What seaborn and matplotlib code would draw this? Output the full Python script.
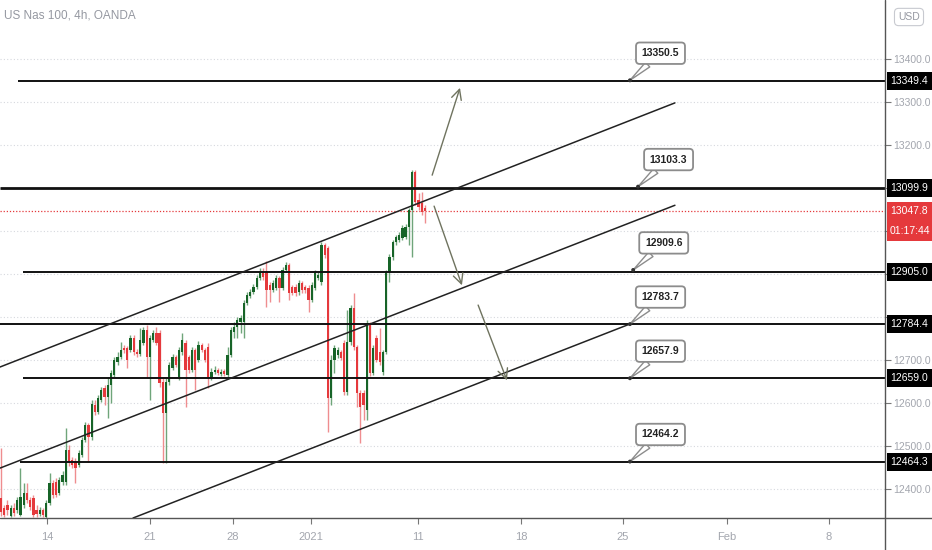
import matplotlib
matplotlib.use("Agg")
import matplotlib.pyplot as plt
import seaborn as sns
import numpy as np
import pandas as pd
from matplotlib import font_manager
from matplotlib.patches import Rectangle
from matplotlib.lines import Line2D

# ---------------- data ----------------
opens = [12379, 12356, 12363, 12337, 12356, 12351, 12340, 12363, 12391, 12374,
         12379, 12351, 12342, 12351, 12335, 12367, 12414, 12416, 12391, 12416,
         12416, 12491, 12467, 12463, 12456, 12479, 12514, 12549, 12521, 12595,
         12579, 12607, 12635, 12614, 12642, 12665, 12695, 12707, 12728, 12728,
         12723, 12751, 12719, 12714, 12740, 12770, 12707, 12747, 12763, 12763,
         12649, 12577, 12649, 12681, 12707, 12660, 12719, 12740, 12707, 12677,
         12723, 12700, 12735, 12723, 12730, 12660, 12672, 12677, 12667, 12674,
         12665, 12712, 12765, 12777, 12788, 12788, 12833, 12849, 12858, 12870,
         12891, 12905, 12905, 12874, 12863, 12867, 12891, 12867, 12909, 12921,
         12870, 12870, 12858, 12879, 12870, 12867, 12840, 12867, 12891, 12881,
         12967, 12960, 12612, 12700, 12712, 12719, 12740, 12626, 12742, 12821,
         12730, 12623, 12623, 12584, 12781, 12670, 12751, 12719, 12672, 12719,
         12905, 12940, 12974, 12979, 12984, 12986, 13009, 13049, 13137, 13072,
         13065, 13053]
highs = [12495, 12363, 12374, 12363, 12367, 12381, 12449, 12414, 12414, 12381,
         12386, 12363, 12358, 12356, 12374, 12437, 12421, 12426, 12428, 12442,
         12542, 12502, 12474, 12472, 12491, 12521, 12556, 12553, 12607, 12607,
         12619, 12637, 12642, 12660, 12677, 12707, 12719, 12742, 12735, 12733,
         12758, 12758, 12726, 12774, 12777, 12781, 12758, 12770, 12777, 12770,
         12658, 12658, 12695, 12714, 12712, 12730, 12763, 12747, 12712, 12730,
         12728, 12744, 12740, 12728, 12740, 12681, 12686, 12681, 12679, 12679,
         12730, 12777, 12788, 12800, 12805, 12840, 12858, 12865, 12877, 12898,
         12914, 12914, 12930, 12881, 12886, 12898, 12895, 12916, 12928, 12926,
         12874, 12877, 12886, 12884, 12874, 12874, 12881, 12909, 12905, 12974,
         12972, 12965, 12712, 12735, 12730, 12723, 12747, 12816, 12828, 12856,
         12735, 12630, 12630, 12793, 12788, 12735, 12758, 12774, 12723, 12909,
         12946, 12979, 12991, 12998, 13014, 13016, 13053, 13142, 13142, 13088,
         13091, 13060]
lows = [12337, 12335, 12340, 12335, 12337, 12344, 12337, 12356, 12367, 12351,
        12335, 12335, 12337, 12335, 12333, 12363, 12379, 12381, 12386, 12409,
        12409, 12453, 12449, 12414, 12451, 12474, 12509, 12463, 12514, 12572,
        12575, 12602, 12595, 12565, 12600, 12660, 12688, 12702, 12716, 12681,
        12719, 12712, 12707, 12709, 12735, 12658, 12607, 12742, 12735, 12637,
        12460, 12460, 12642, 12677, 12684, 12653, 12712, 12591, 12670, 12672,
        12630, 12695, 12719, 12695, 12635, 12653, 12667, 12665, 12663, 12663,
        12660, 12707, 12751, 12751, 12763, 12751, 12828, 12844, 12854, 12865,
        12886, 12886, 12823, 12835, 12858, 12863, 12835, 12863, 12905, 12840,
        12851, 12849, 12851, 12856, 12856, 12812, 12835, 12863, 12886, 12874,
        12937, 12533, 12595, 12670, 12705, 12700, 12619, 12619, 12735, 12723,
        12591, 12507, 12560, 12560, 12663, 12665, 12695, 12688, 12665, 12714,
        12881, 12933, 12967, 12974, 12979, 12981, 12967, 12940, 13060, 13049,
        13037, 13019]
closes = [12346, 12340, 12351, 12356, 12344, 12374, 12381, 12391, 12374, 12358,
          12340, 12342, 12351, 12340, 12367, 12414, 12386, 12386, 12421, 12433,
          12491, 12460, 12456, 12449, 12484, 12514, 12549, 12521, 12598, 12579,
          12612, 12630, 12614, 12642, 12670, 12700, 12707, 12723, 12723, 12700,
          12751, 12719, 12714, 12747, 12770, 12707, 12751, 12763, 12740, 12646,
          12577, 12649, 12688, 12707, 12688, 12723, 12747, 12677, 12677, 12723,
          12677, 12735, 12723, 12700, 12660, 12672, 12677, 12670, 12672, 12667,
          12712, 12770, 12777, 12793, 12798, 12833, 12851, 12858, 12870, 12891,
          12905, 12893, 12863, 12863, 12879, 12891, 12867, 12909, 12921, 12856,
          12856, 12856, 12879, 12863, 12863, 12840, 12874, 12902, 12898, 12967,
          12944, 12612, 12700, 12728, 12723, 12705, 12626, 12742, 12821, 12730,
          12623, 12591, 12595, 12786, 12670, 12728, 12700, 12695, 12719, 12905,
          12940, 12974, 12986, 12991, 13007, 13009, 13049, 13137, 13067, 13056,
          13044, 13047.8]

date_labels = ["14", "21", "28", "2021", "11", "18", "25", "Feb", "8"]
date_bars = [14.2, 46.0, 71.7, 95.8, 128.8, 160.6, 192.1, 224.3, 255.8]

price_ticks = [12400, 12500, 12600, 12700, 12800, 12900, 13000, 13100, 13200, 13300, 13400]
price_tick_labels = ["12400.0", "12500.0", "12600.0", "12700.0", "", "", "", "", "13200.0", "13300.0", "13400.0"]

levels = [13349.4, 13099.9, 12905.0, 12784.4, 12659.0, 12464.3]
level_start_bars = [5.25, -0.31, 6.8, -0.31, 6.8, 5.9]

channel_x = [[-0.31, 208.2], [-0.31, 208.2], [40.8, 194.3]]
channel_y = [[12684, 13298], [12449, 13060], [12333, 12784]]

arrow_from = [(133.2, 13130), (133.8, 13058), (147.4, 12828)]
arrow_to = [(141.8, 13333), (142.4, 12874), (156.3, 12653)]

callout_texts = ["13350.5", "13103.3", "12909.6", "12783.7", "12657.9", "12464.2"]
callout_prices = [13350.5, 13103.3, 12909.6, 12783.7, 12657.9, 12464.2]
callout_bars = [194.3, 196.8, 195.3, 194.3, 194.3, 194.3]

last_price = 13047.8
countdown = "01:17:44"
title = "US Nas 100, 4h, OANDA"

# ---------------- style ----------------
sns.set_theme(style="white")
names = {f.name for f in font_manager.fontManager.ttflist}
cond = "Liberation Sans Narrow" if "Liberation Sans Narrow" in names else "Liberation Sans"
plt.rcParams["font.family"] = [cond, "DejaVu Sans"]

W, H = 932, 550
fig = plt.figure(figsize=(W / 100, H / 100), dpi=100)
fig.patch.set_facecolor("white")
ax = fig.add_axes([0, 32 / H, 885 / W, 518 / H])
ax.set_facecolor("white")
ax.set_xlim(-0.31, 273.1)
ax.set_ylim(12333, 13537.2)

# grid
for p in price_ticks:
    ax.axhline(p, color="#d6d8de", lw=0.8, ls=(0, (1, 2)), zorder=0)

# candles
df = pd.DataFrame({"o": opens, "h": highs, "l": lows, "c": closes})
df["i"] = np.arange(len(df))
GREEN, RED = "#176428", "#e5393c"
GREEN_W, RED_W = "#6fa57a", "#ef8d8f"
up = df["c"] >= df["o"]
ax.vlines(df["i"][up], df["l"][up], df["h"][up], color=GREEN_W, lw=1.0, zorder=2)
ax.vlines(df["i"][~up], df["l"][~up], df["h"][~up], color=RED_W, lw=1.0, zorder=2)
body_h = np.maximum((df["c"] - df["o"]).abs(), 2.5)
body_b = np.minimum(df["c"], df["o"])
ax.bar(df["i"][up], body_h[up], bottom=body_b[up], width=0.7, color=GREEN, lw=0, zorder=3)
ax.bar(df["i"][~up], body_h[~up], bottom=body_b[~up], width=0.7, color=RED, lw=0, zorder=3)

# last price dotted line
ax.axhline(last_price, color=RED, lw=0.9, ls=(0, (1, 1.5)), zorder=1)

# horizontal levels
for lv, st in zip(levels, level_start_bars):
    lw = 2.0 if abs(lv - 13099.9) < 0.01 else 1.4
    ax.hlines(lv, st, 273.1, color="#111111", lw=lw, zorder=4)

# channel lines
for xs, ys in zip(channel_x, channel_y):
    ax.plot(xs, ys, color="#222222", lw=1.1, zorder=4)

# arrows
for a, b in zip(arrow_from, arrow_to):
    ax.annotate("", xy=b, xytext=a,
                arrowprops=dict(arrowstyle="->,head_length=0.6,head_width=0.3",
                                color="#6f735f", lw=1.0, shrinkA=0, shrinkB=0), zorder=5)

# callouts
for t, bx, p in zip(callout_texts, callout_bars, callout_prices):
    ax.annotate(t, xy=(bx, p), xytext=(22, 19.5), textcoords="offset points",
                ha="center", va="center", fontsize=7.5, fontweight="bold", color="#222222",
                bbox=dict(boxstyle="round,pad=0.55,rounding_size=0.35", fc="white", ec="#8c8c8c", lw=1.3),
                arrowprops=dict(arrowstyle="wedge,tail_width=0.6,shrink_factor=0.5",
                                fc="white", ec="#8c8c8c", lw=1.0, shrinkA=0, shrinkB=0),
                zorder=7)
sns.scatterplot(x=callout_bars, y=callout_prices, s=8, color="#333333", ax=ax,
                legend=False, zorder=8, edgecolor="none")

# axes / ticks
for s in ax.spines.values():
    s.set_visible(False)
ax.yaxis.tick_right()
ax.set_yticks(price_ticks)
ax.set_yticklabels(price_tick_labels)
ax.set_xticks(date_bars)
ax.set_xticklabels(date_labels)
ax.tick_params(axis="y", right=True, length=4, width=0.8, color="#777777",
               labelcolor="#a3a6ae", labelsize=7.5, pad=2)
ax.tick_params(axis="x", bottom=True, length=4, width=0.8, color="#777777",
               labelcolor="#a3a6ae", labelsize=8, pad=6)
ax.set_xlabel("")
ax.set_ylabel("")

# outer axis lines
fig.add_artist(Line2D([885 / W, 885 / W], [0, 1], color="#555555", lw=1.0))
fig.add_artist(Line2D([0, 1], [32 / H, 32 / H], color="#555555", lw=1.0))

# price boxes on right scale
def ypix(p):
    return ax.transData.transform((0, p))[1]

for lv in levels:
    yp = ypix(lv)
    fig.add_artist(Rectangle((887 / W, (yp - 9) / H), 45 / W, 18 / H,
                             transform=fig.transFigure, fc="black", ec="none", zorder=10))
    fig.text(909.5 / W, yp / H, f"{lv:.1f}", color="white", fontsize=7.5,
             ha="center", va="center", zorder=11)

yp = ypix(last_price)
fig.add_artist(Rectangle((887 / W, (yp - 30) / H), 45 / W, 39 / H,
                         transform=fig.transFigure, fc=RED, ec="none", zorder=10))
fig.text(909.5 / W, yp / H, f"{last_price:.1f}", color="white", fontsize=7.5,
         ha="center", va="center", zorder=11)
fig.text(909.5 / W, (yp - 20) / H, countdown, color="white", fontsize=7.5,
         ha="center", va="center", zorder=11)

# title and currency
fig.text(4 / W, 1 - 16 / H, title, fontsize=8.5, color="#9598a1", ha="left", va="center")
fig.text(909 / W, 1 - 17 / H, "USD", fontsize=7.5, color="#9598a1", ha="center", va="center",
         bbox=dict(boxstyle="round,pad=0.35,rounding_size=0.4", fc="white", ec="#c8cad0", lw=0.8))

fig.savefig("out.png", dpi=100)
